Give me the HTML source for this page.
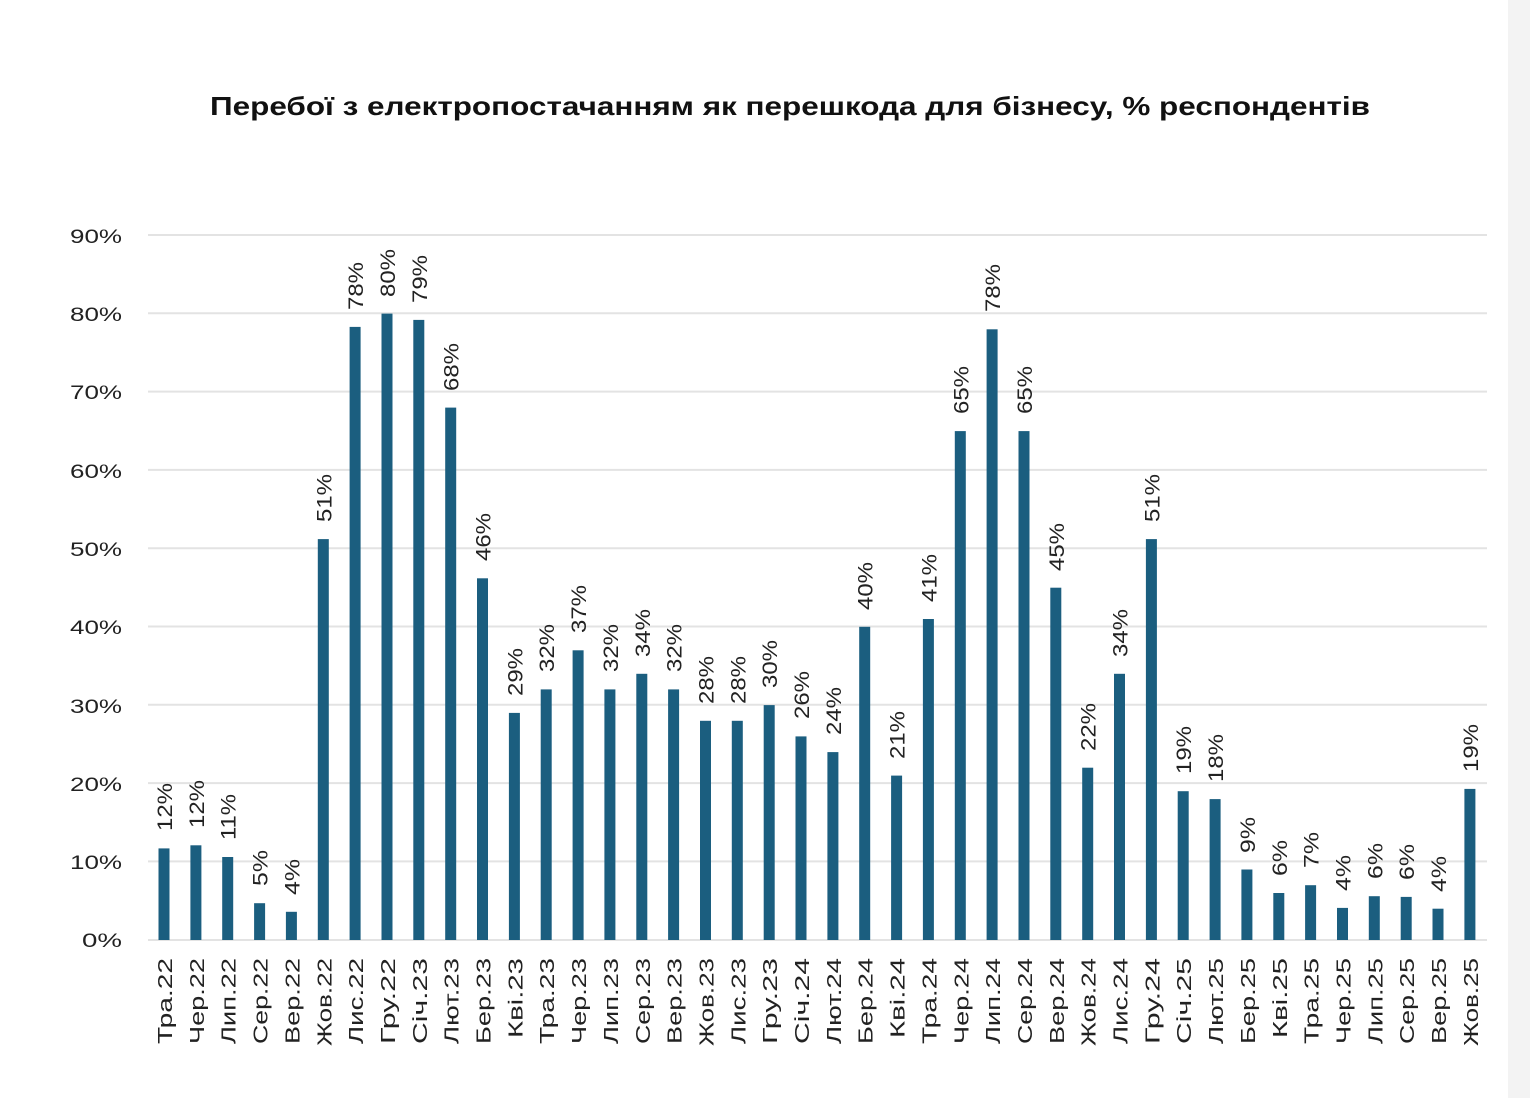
<!DOCTYPE html>
<html><head><meta charset="utf-8"><style>
html,body{margin:0;padding:0;background:#fff}
svg{display:block}
text{font-family:"Liberation Sans","DejaVu Sans",sans-serif;fill:#222}
.v{font-size:21px}
.x{font-size:20px}
.y{font-size:19px}
</style></head><body>
<svg width="1530" height="1098" viewBox="0 0 1530 1098" xmlns="http://www.w3.org/2000/svg">
<rect x="0" y="0" width="1530" height="1098" fill="#fff"/>
<rect x="1508" y="0" width="22" height="1098" fill="#f3f3f3"/>
<text x="790" y="115" text-anchor="middle" style="font-size:26px;font-weight:bold;fill:#111" textLength="1160" lengthAdjust="spacingAndGlyphs">Перебої з електропостачанням як перешкода для бізнесу, % респондентів</text>
<g stroke="#e3e3e3" stroke-width="2">
<line x1="148" x2="1487" y1="235" y2="235"/><line x1="148" x2="1487" y1="313.3" y2="313.3"/><line x1="148" x2="1487" y1="391.6" y2="391.6"/><line x1="148" x2="1487" y1="469.9" y2="469.9"/><line x1="148" x2="1487" y1="548.2" y2="548.2"/><line x1="148" x2="1487" y1="626.5" y2="626.5"/><line x1="148" x2="1487" y1="704.8" y2="704.8"/><line x1="148" x2="1487" y1="783.1" y2="783.1"/><line x1="148" x2="1487" y1="861.4" y2="861.4"/><line x1="148" x2="1487" y1="940" y2="940"/>
</g>
<g class="y" text-anchor="end">
<text x="122" y="243" class="y" textLength="52" lengthAdjust="spacingAndGlyphs">90%</text><text x="122" y="321" class="y" textLength="52" lengthAdjust="spacingAndGlyphs">80%</text><text x="122" y="399" class="y" textLength="52" lengthAdjust="spacingAndGlyphs">70%</text><text x="122" y="478" class="y" textLength="52" lengthAdjust="spacingAndGlyphs">60%</text><text x="122" y="556" class="y" textLength="52" lengthAdjust="spacingAndGlyphs">50%</text><text x="122" y="634" class="y" textLength="52" lengthAdjust="spacingAndGlyphs">40%</text><text x="122" y="713" class="y" textLength="52" lengthAdjust="spacingAndGlyphs">30%</text><text x="122" y="791" class="y" textLength="52" lengthAdjust="spacingAndGlyphs">20%</text><text x="122" y="869" class="y" textLength="52" lengthAdjust="spacingAndGlyphs">10%</text><text x="122" y="947" class="y" textLength="40" lengthAdjust="spacingAndGlyphs">0%</text>
</g>
<g fill="#1b5e7f">
<rect x="158.5" y="848.4" width="11" height="91.6"/>
<rect x="190.4" y="845.3" width="11" height="94.7"/>
<rect x="222.2" y="857" width="11" height="83"/>
<rect x="254.1" y="903.2" width="11" height="36.8"/>
<rect x="285.9" y="911.8" width="11" height="28.2"/>
<rect x="317.8" y="539.1" width="11" height="400.9"/>
<rect x="349.6" y="326.9" width="11" height="613.1"/>
<rect x="381.5" y="313.6" width="11" height="626.4"/>
<rect x="413.3" y="319.9" width="11" height="620.1"/>
<rect x="445.2" y="407.6" width="11" height="532.4"/>
<rect x="477" y="578.3" width="11" height="361.7"/>
<rect x="508.9" y="712.9" width="11" height="227.1"/>
<rect x="540.7" y="689.4" width="11" height="250.6"/>
<rect x="572.6" y="650.3" width="11" height="289.7"/>
<rect x="604.4" y="689.4" width="11" height="250.6"/>
<rect x="636.3" y="673.8" width="11" height="266.2"/>
<rect x="668.1" y="689.4" width="11" height="250.6"/>
<rect x="700" y="720.8" width="11" height="219.2"/>
<rect x="731.8" y="720.8" width="11" height="219.2"/>
<rect x="763.7" y="705.1" width="11" height="234.9"/>
<rect x="795.5" y="736.4" width="11" height="203.6"/>
<rect x="827.4" y="752.1" width="11" height="187.9"/>
<rect x="859.2" y="626.8" width="11" height="313.2"/>
<rect x="891.1" y="775.6" width="11" height="164.4"/>
<rect x="922.9" y="619" width="11" height="321"/>
<rect x="954.8" y="431.1" width="11" height="508.9"/>
<rect x="986.6" y="329.3" width="11" height="610.7"/>
<rect x="1018.5" y="431.1" width="11" height="508.9"/>
<rect x="1050.3" y="587.7" width="11" height="352.3"/>
<rect x="1082.2" y="767.7" width="11" height="172.3"/>
<rect x="1114" y="673.8" width="11" height="266.2"/>
<rect x="1145.9" y="539.1" width="11" height="400.9"/>
<rect x="1177.7" y="791.2" width="11" height="148.8"/>
<rect x="1209.6" y="799.1" width="11" height="140.9"/>
<rect x="1241.4" y="869.5" width="11" height="70.5"/>
<rect x="1273.3" y="893" width="11" height="47"/>
<rect x="1305.1" y="885.2" width="11" height="54.8"/>
<rect x="1337" y="907.9" width="11" height="32.1"/>
<rect x="1368.8" y="896.2" width="11" height="43.8"/>
<rect x="1400.7" y="896.9" width="11" height="43.1"/>
<rect x="1432.5" y="908.7" width="11" height="31.3"/>
<rect x="1464.4" y="788.9" width="11" height="151.1"/>
</g>
<g class="v" lengthAdjust="spacingAndGlyphs">
<text class="v" textLength="48" lengthAdjust="spacingAndGlyphs" transform="translate(172,831) rotate(-90)">12%</text>
<text class="v" textLength="48" lengthAdjust="spacingAndGlyphs" transform="translate(203.9,828) rotate(-90)">12%</text>
<text class="v" textLength="46" lengthAdjust="spacingAndGlyphs" transform="translate(235.7,840) rotate(-90)">11%</text>
<text class="v" textLength="36" lengthAdjust="spacingAndGlyphs" transform="translate(267.6,886) rotate(-90)">5%</text>
<text class="v" textLength="36" lengthAdjust="spacingAndGlyphs" transform="translate(299.4,895) rotate(-90)">4%</text>
<text class="v" textLength="48" lengthAdjust="spacingAndGlyphs" transform="translate(331.3,522) rotate(-90)">51%</text>
<text class="v" textLength="48" lengthAdjust="spacingAndGlyphs" transform="translate(363.1,310) rotate(-90)">78%</text>
<text class="v" textLength="48" lengthAdjust="spacingAndGlyphs" transform="translate(395,297) rotate(-90)">80%</text>
<text class="v" textLength="48" lengthAdjust="spacingAndGlyphs" transform="translate(426.8,303) rotate(-90)">79%</text>
<text class="v" textLength="48" lengthAdjust="spacingAndGlyphs" transform="translate(458.7,391) rotate(-90)">68%</text>
<text class="v" textLength="48" lengthAdjust="spacingAndGlyphs" transform="translate(490.5,561) rotate(-90)">46%</text>
<text class="v" textLength="48" lengthAdjust="spacingAndGlyphs" transform="translate(522.4,696) rotate(-90)">29%</text>
<text class="v" textLength="48" lengthAdjust="spacingAndGlyphs" transform="translate(554.2,672) rotate(-90)">32%</text>
<text class="v" textLength="48" lengthAdjust="spacingAndGlyphs" transform="translate(586.1,633) rotate(-90)">37%</text>
<text class="v" textLength="48" lengthAdjust="spacingAndGlyphs" transform="translate(617.9,672) rotate(-90)">32%</text>
<text class="v" textLength="48" lengthAdjust="spacingAndGlyphs" transform="translate(649.8,657) rotate(-90)">34%</text>
<text class="v" textLength="48" lengthAdjust="spacingAndGlyphs" transform="translate(681.6,672) rotate(-90)">32%</text>
<text class="v" textLength="48" lengthAdjust="spacingAndGlyphs" transform="translate(713.5,704) rotate(-90)">28%</text>
<text class="v" textLength="48" lengthAdjust="spacingAndGlyphs" transform="translate(745.3,704) rotate(-90)">28%</text>
<text class="v" textLength="48" lengthAdjust="spacingAndGlyphs" transform="translate(777.2,688) rotate(-90)">30%</text>
<text class="v" textLength="48" lengthAdjust="spacingAndGlyphs" transform="translate(809,719) rotate(-90)">26%</text>
<text class="v" textLength="48" lengthAdjust="spacingAndGlyphs" transform="translate(840.9,735) rotate(-90)">24%</text>
<text class="v" textLength="48" lengthAdjust="spacingAndGlyphs" transform="translate(872.7,610) rotate(-90)">40%</text>
<text class="v" textLength="48" lengthAdjust="spacingAndGlyphs" transform="translate(904.6,759) rotate(-90)">21%</text>
<text class="v" textLength="48" lengthAdjust="spacingAndGlyphs" transform="translate(936.4,602) rotate(-90)">41%</text>
<text class="v" textLength="48" lengthAdjust="spacingAndGlyphs" transform="translate(968.3,414) rotate(-90)">65%</text>
<text class="v" textLength="48" lengthAdjust="spacingAndGlyphs" transform="translate(1000.1,312) rotate(-90)">78%</text>
<text class="v" textLength="48" lengthAdjust="spacingAndGlyphs" transform="translate(1032,414) rotate(-90)">65%</text>
<text class="v" textLength="48" lengthAdjust="spacingAndGlyphs" transform="translate(1063.8,571) rotate(-90)">45%</text>
<text class="v" textLength="48" lengthAdjust="spacingAndGlyphs" transform="translate(1095.7,751) rotate(-90)">22%</text>
<text class="v" textLength="48" lengthAdjust="spacingAndGlyphs" transform="translate(1127.5,657) rotate(-90)">34%</text>
<text class="v" textLength="48" lengthAdjust="spacingAndGlyphs" transform="translate(1159.4,522) rotate(-90)">51%</text>
<text class="v" textLength="48" lengthAdjust="spacingAndGlyphs" transform="translate(1191.2,774) rotate(-90)">19%</text>
<text class="v" textLength="48" lengthAdjust="spacingAndGlyphs" transform="translate(1223.1,782) rotate(-90)">18%</text>
<text class="v" textLength="36" lengthAdjust="spacingAndGlyphs" transform="translate(1254.9,853) rotate(-90)">9%</text>
<text class="v" textLength="36" lengthAdjust="spacingAndGlyphs" transform="translate(1286.8,876) rotate(-90)">6%</text>
<text class="v" textLength="36" lengthAdjust="spacingAndGlyphs" transform="translate(1318.6,868) rotate(-90)">7%</text>
<text class="v" textLength="36" lengthAdjust="spacingAndGlyphs" transform="translate(1350.5,891) rotate(-90)">4%</text>
<text class="v" textLength="36" lengthAdjust="spacingAndGlyphs" transform="translate(1382.3,879) rotate(-90)">6%</text>
<text class="v" textLength="36" lengthAdjust="spacingAndGlyphs" transform="translate(1414.2,880) rotate(-90)">6%</text>
<text class="v" textLength="36" lengthAdjust="spacingAndGlyphs" transform="translate(1446,892) rotate(-90)">4%</text>
<text class="v" textLength="48" lengthAdjust="spacingAndGlyphs" transform="translate(1477.9,772) rotate(-90)">19%</text>
</g>
<g class="x" text-anchor="end">
<text class="x" textLength="86" lengthAdjust="spacingAndGlyphs" transform="translate(172,958) rotate(-90)">Тра.22</text>
<text class="x" textLength="86" lengthAdjust="spacingAndGlyphs" transform="translate(203.9,958) rotate(-90)">Чер.22</text>
<text class="x" textLength="86" lengthAdjust="spacingAndGlyphs" transform="translate(235.7,958) rotate(-90)">Лип.22</text>
<text class="x" textLength="86" lengthAdjust="spacingAndGlyphs" transform="translate(267.6,958) rotate(-90)">Сер.22</text>
<text class="x" textLength="86" lengthAdjust="spacingAndGlyphs" transform="translate(299.4,958) rotate(-90)">Вер.22</text>
<text class="x" textLength="88" lengthAdjust="spacingAndGlyphs" transform="translate(331.3,958) rotate(-90)">Жов.22</text>
<text class="x" textLength="86" lengthAdjust="spacingAndGlyphs" transform="translate(363.1,958) rotate(-90)">Лис.22</text>
<text class="x" textLength="86" lengthAdjust="spacingAndGlyphs" transform="translate(395,958) rotate(-90)">Гру.22</text>
<text class="x" textLength="86" lengthAdjust="spacingAndGlyphs" transform="translate(426.8,958) rotate(-90)">Січ.23</text>
<text class="x" textLength="86" lengthAdjust="spacingAndGlyphs" transform="translate(458.7,958) rotate(-90)">Лют.23</text>
<text class="x" textLength="86" lengthAdjust="spacingAndGlyphs" transform="translate(490.5,958) rotate(-90)">Бер.23</text>
<text class="x" textLength="80" lengthAdjust="spacingAndGlyphs" transform="translate(522.4,958) rotate(-90)">Кві.23</text>
<text class="x" textLength="86" lengthAdjust="spacingAndGlyphs" transform="translate(554.2,958) rotate(-90)">Тра.23</text>
<text class="x" textLength="86" lengthAdjust="spacingAndGlyphs" transform="translate(586.1,958) rotate(-90)">Чер.23</text>
<text class="x" textLength="86" lengthAdjust="spacingAndGlyphs" transform="translate(617.9,958) rotate(-90)">Лип.23</text>
<text class="x" textLength="86" lengthAdjust="spacingAndGlyphs" transform="translate(649.8,958) rotate(-90)">Сер.23</text>
<text class="x" textLength="86" lengthAdjust="spacingAndGlyphs" transform="translate(681.6,958) rotate(-90)">Вер.23</text>
<text class="x" textLength="88" lengthAdjust="spacingAndGlyphs" transform="translate(713.5,958) rotate(-90)">Жов.23</text>
<text class="x" textLength="86" lengthAdjust="spacingAndGlyphs" transform="translate(745.3,958) rotate(-90)">Лис.23</text>
<text class="x" textLength="86" lengthAdjust="spacingAndGlyphs" transform="translate(777.2,958) rotate(-90)">Гру.23</text>
<text class="x" textLength="86" lengthAdjust="spacingAndGlyphs" transform="translate(809,958) rotate(-90)">Січ.24</text>
<text class="x" textLength="86" lengthAdjust="spacingAndGlyphs" transform="translate(840.9,958) rotate(-90)">Лют.24</text>
<text class="x" textLength="86" lengthAdjust="spacingAndGlyphs" transform="translate(872.7,958) rotate(-90)">Бер.24</text>
<text class="x" textLength="80" lengthAdjust="spacingAndGlyphs" transform="translate(904.6,958) rotate(-90)">Кві.24</text>
<text class="x" textLength="86" lengthAdjust="spacingAndGlyphs" transform="translate(936.4,958) rotate(-90)">Тра.24</text>
<text class="x" textLength="86" lengthAdjust="spacingAndGlyphs" transform="translate(968.3,958) rotate(-90)">Чер.24</text>
<text class="x" textLength="86" lengthAdjust="spacingAndGlyphs" transform="translate(1000.1,958) rotate(-90)">Лип.24</text>
<text class="x" textLength="86" lengthAdjust="spacingAndGlyphs" transform="translate(1032,958) rotate(-90)">Сер.24</text>
<text class="x" textLength="86" lengthAdjust="spacingAndGlyphs" transform="translate(1063.8,958) rotate(-90)">Вер.24</text>
<text class="x" textLength="88" lengthAdjust="spacingAndGlyphs" transform="translate(1095.7,958) rotate(-90)">Жов.24</text>
<text class="x" textLength="86" lengthAdjust="spacingAndGlyphs" transform="translate(1127.5,958) rotate(-90)">Лис.24</text>
<text class="x" textLength="86" lengthAdjust="spacingAndGlyphs" transform="translate(1159.4,958) rotate(-90)">Гру.24</text>
<text class="x" textLength="86" lengthAdjust="spacingAndGlyphs" transform="translate(1191.2,958) rotate(-90)">Січ.25</text>
<text class="x" textLength="86" lengthAdjust="spacingAndGlyphs" transform="translate(1223.1,958) rotate(-90)">Лют.25</text>
<text class="x" textLength="86" lengthAdjust="spacingAndGlyphs" transform="translate(1254.9,958) rotate(-90)">Бер.25</text>
<text class="x" textLength="80" lengthAdjust="spacingAndGlyphs" transform="translate(1286.8,958) rotate(-90)">Кві.25</text>
<text class="x" textLength="86" lengthAdjust="spacingAndGlyphs" transform="translate(1318.6,958) rotate(-90)">Тра.25</text>
<text class="x" textLength="86" lengthAdjust="spacingAndGlyphs" transform="translate(1350.5,958) rotate(-90)">Чер.25</text>
<text class="x" textLength="86" lengthAdjust="spacingAndGlyphs" transform="translate(1382.3,958) rotate(-90)">Лип.25</text>
<text class="x" textLength="86" lengthAdjust="spacingAndGlyphs" transform="translate(1414.2,958) rotate(-90)">Сер.25</text>
<text class="x" textLength="86" lengthAdjust="spacingAndGlyphs" transform="translate(1446,958) rotate(-90)">Вер.25</text>
<text class="x" textLength="88" lengthAdjust="spacingAndGlyphs" transform="translate(1477.9,958) rotate(-90)">Жов.25</text>
</g>
</svg>
</body></html>
